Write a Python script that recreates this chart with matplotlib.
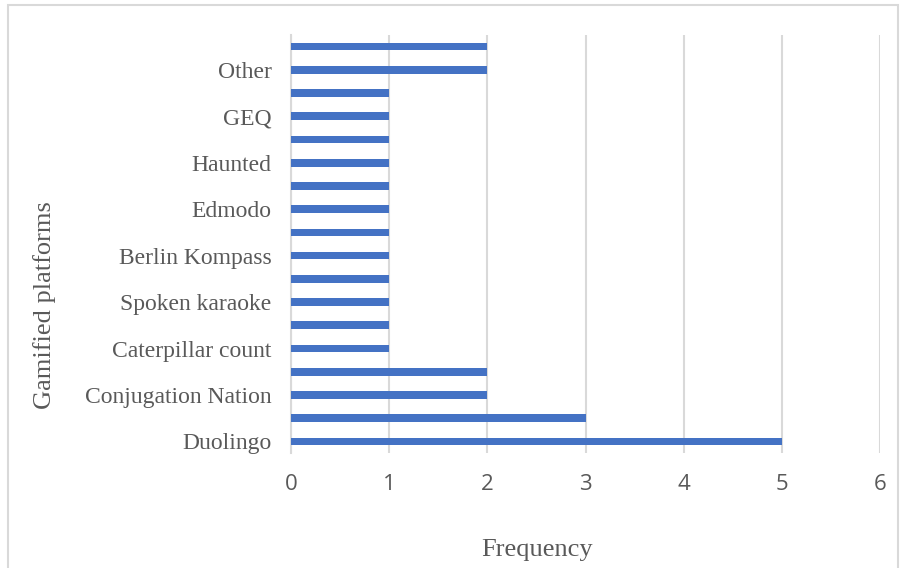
import matplotlib
matplotlib.use('Agg')
import matplotlib.pyplot as plt
from matplotlib.patches import Rectangle

# Data (bottom to top)
platforms = ['Duolingo', '', 'Conjugation Nation', '', 'Caterpillar count', '',
             'Spoken karaoke', '', 'Berlin Kompass', '', 'Edmodo', '',
             'Haunted', '', 'GEQ', '', 'Other', '']
frequency = [5, 3, 2, 2, 1, 1, 1, 1, 1, 1, 1, 1, 1, 1, 1, 1, 2, 2]
x_ticks = [0, 1, 2, 3, 4, 5, 6]

bar_color = '#4472C4'
grid_color = '#D9D9D9'
text_color = '#595959'

fig = plt.figure(figsize=(9.06, 5.68), dpi=100)
ax = fig.add_axes([291/906, 1 - 453/568, 589/906, 418/568])

pos = list(range(len(platforms)))
ax.barh(pos, frequency, height=0.33, color=bar_color, zorder=3)

ax.set_xlim(0, 6)
ax.set_ylim(-0.5, len(platforms) - 0.5)
ax.set_xticks(x_ticks)
ax.set_xticklabels([str(t) for t in x_ticks], family='Open Sans', fontsize=16, color=text_color)
ax.set_yticks(pos)
ax.set_yticklabels(platforms, family='Liberation Serif', fontsize=17, color=text_color)
ax.tick_params(length=0)
ax.tick_params(axis='x', pad=15)
ax.tick_params(axis='y', pad=14)

ax.grid(axis='x', color=grid_color, linewidth=1.5, zorder=0)
for s in ['top', 'right', 'bottom']:
    ax.spines[s].set_visible(False)
ax.spines['left'].set_color(grid_color)
ax.spines['left'].set_linewidth(1.5)

fig.text(45/906, 1 - 305/568, 'Gamified platforms', rotation=90, ha='center', va='center',
         family='Liberation Serif', fontsize=19, color=text_color)
fig.text(537/906, 1 - 550/568, 'Frequency', ha='center', va='center',
         family='Liberation Serif', fontsize=19, color=text_color)

# chart border
fig.patches.append(Rectangle((8/906, -0.05), 890/906, 1 - 5/568 + 0.05, transform=fig.transFigure,
                             fill=False, edgecolor='#D9D9D9', linewidth=1.5))

fig.savefig('out.png', dpi=100)
